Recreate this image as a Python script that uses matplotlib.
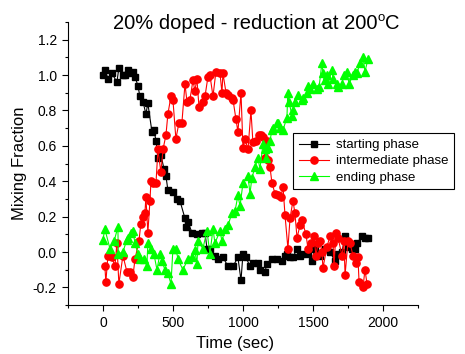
import matplotlib
matplotlib.use('Agg')
import matplotlib.pyplot as plt
from matplotlib.ticker import MultipleLocator

# starting phase (black squares)
start_t = [0, 14, 36, 64, 100, 114, 143, 157, 179, 193,
           214, 229, 250, 264, 286, 307, 321, 350, 364, 379,
           393, 414, 436, 450, 464, 500, 529, 550, 586, 593,
           607, 636, 671, 707, 729, 743, 764, 800, 821, 857,
           893, 929, 964, 986, 1000, 1021, 1050, 1071, 1107, 1121,
           1157, 1171, 1207, 1243, 1279, 1300, 1314, 1336, 1357, 1386,
           1407, 1421, 1464, 1493, 1514, 1536, 1550, 1586, 1621, 1657,
           1679, 1707, 1729, 1750, 1779, 1800, 1814, 1850, 1871, 1893]
start_y = [1.00, 1.03, 0.98, 1.01, 0.96, 1.04, 1.00, 1.00, 1.03, 1.01,
           1.02, 0.99, 0.94, 0.88, 0.85, 0.78, 0.84, 0.68, 0.69, 0.63,
           0.53, 0.55, 0.47, 0.43, 0.35, 0.34, 0.30, 0.29, 0.19, 0.14,
           0.17, 0.11, 0.10, 0.11, 0.11, 0.02, 0.02, -0.02, -0.04, -0.03,
           -0.08, -0.08, -0.03, -0.16, -0.01, -0.03, -0.08, -0.06, -0.06, -0.10,
           -0.11, -0.07, -0.04, -0.04, -0.05, -0.02, -0.01, -0.03, -0.03, 0.02,
           -0.02, -0.01, -0.01, -0.05, 0.02, -0.01, -0.02, 0.02, 0.00, -0.05,
           -0.01, 0.00, 0.09, 0.03, 0.02, 0.02, 0.05, 0.09, 0.08, 0.08]

# intermediate phase (red circles)
inter_t = [14, 21, 36, 64, 86, 100, 114, 143, 171, 193,
           214, 229, 257, 271, 286, 300, 307, 321, 336, 343,
           357, 379, 393, 414, 429, 450, 464, 486, 500, 521,
           543, 564, 586, 600, 621, 643, 657, 671, 686, 714,
           729, 750, 764, 786, 807, 836, 850, 857, 879, 893,
           921, 929, 950, 964, 986, 1000, 1014, 1036, 1057, 1071,
           1093, 1114, 1129, 1143, 1157, 1171, 1179, 1193, 1207, 1229,
           1250, 1271, 1286, 1300, 1321, 1336, 1357, 1371, 1386, 1407,
           1421, 1450, 1464, 1486, 1507, 1521, 1536, 1550, 1564, 1571,
           1600, 1621, 1643, 1650, 1664, 1679, 1707, 1721, 1729, 1750,
           1764, 1786, 1807, 1821, 1829, 1857, 1871, 1886]
inter_y = [-0.08, -0.17, -0.02, -0.03, -0.08, 0.05, -0.18, -0.02, -0.11, -0.11,
           -0.14, -0.04, 0.06, 0.16, 0.20, 0.22, 0.31, 0.11, 0.29, 0.40,
           0.39, 0.39, 0.58, 0.45, 0.58, 0.66, 0.78, 0.88, 0.86, 0.64,
           0.73, 0.73, 0.95, 0.85, 0.86, 0.97, 0.91, 0.98, 0.82, 0.85,
           0.88, 0.99, 1.00, 0.88, 1.02, 1.01, 0.90, 1.01, 0.90, 0.89,
           0.87, 0.86, 0.75, 0.68, 0.90, 0.59, 0.64, 0.58, 0.80, 0.62,
           0.63, 0.66, 0.66, 0.65, 0.53, 0.63, 0.52, 0.48, 0.39, 0.33,
           0.32, 0.31, 0.37, 0.21, 0.02, 0.19, 0.29, 0.22, 0.08, 0.15,
           0.18, 0.10, 0.02, 0.05, 0.09, -0.02, 0.05, 0.06, 0.00, -0.09,
           0.03, 0.09, 0.05, -0.08, 0.11, 0.08, -0.02, 0.06, -0.13, 0.06,
           0.05, -0.02, -0.06, -0.03, -0.17, -0.20, -0.10, -0.18]

# ending phase (green triangles)
end_t = [0, 14, 50, 79, 107, 110, 143, 171, 179, 200,
         214, 229, 250, 264, 293, 314, 321, 343, 364, 386,
         407, 421, 443, 464, 486, 500, 521, 536, 571, 607,
         636, 657, 671, 679, 714, 743, 764, 786, 800, 836,
         850, 871, 893, 921, 943, 964, 979, 1000, 1036, 1050,
         1064, 1086, 1107, 1121, 1143, 1157, 1164, 1179, 1193, 1207,
         1214, 1243, 1250, 1264, 1286, 1314, 1320, 1329, 1350, 1357,
         1371, 1393, 1421, 1429, 1457, 1464, 1479, 1500, 1529, 1543,
         1564, 1571, 1586, 1600, 1607, 1636, 1643, 1671, 1679, 1707,
         1721, 1743, 1757, 1786, 1800, 1814, 1836, 1857, 1871, 1893]
end_y = [0.07, 0.13, 0.02, 0.06, 0.14, -0.01, 0.00, 0.07, 0.08, 0.11,
         0.12, 0.05, -0.01, -0.04, -0.04, -0.08, 0.05, 0.02, -0.01, -0.10,
         -0.01, -0.05, -0.10, -0.12, -0.18, 0.02, 0.02, -0.04, -0.10, -0.04,
         -0.03, 0.01, -0.07, 0.06, 0.02, 0.12, -0.01, 0.13, 0.05, 0.12,
         0.06, 0.13, 0.15, 0.22, 0.23, 0.32, 0.26, 0.39, 0.43, 0.33,
         0.42, 0.48, 0.53, 0.47, 0.61, 0.58, 0.53, 0.59, 0.63, 0.69,
         0.70, 0.73, 0.73, 0.70, 0.69, 0.76, 0.90, 0.85, 0.77, 0.80,
         0.85, 0.89, 0.86, 0.87, 0.90, 0.94, 0.92, 0.95, 0.92, 0.93,
         1.07, 1.01, 0.97, 1.00, 0.95, 1.03, 0.98, 0.95, 0.93, 0.95,
         1.00, 1.02, 0.95, 1.00, 1.02, 1.01, 1.07, 1.10, 1.02, 1.09]

plt.rcParams['font.family'] = ['Liberation Sans', 'DejaVu Sans']

dpi = 100
fig = plt.figure(figsize=(465 / dpi, 354 / dpi), dpi=dpi)
ax = fig.add_axes([0.146, 0.138, 0.753, 0.800])

ax.plot(start_t, start_y, color='black', lw=0.8, marker='s', ms=4.8,
        label='starting phase')
ax.plot(inter_t, inter_y, color='#ff0000', lw=0.8, marker='o', ms=5.2,
        label='intermediate phase')
ax.plot(end_t, end_y, color='#00ff00', lw=0.8, marker='^', ms=5.6,
        label='ending phase')

ax.set_xlim(-250, 2250)
ax.set_ylim(-0.3, 1.3)
ax.xaxis.set_major_locator(MultipleLocator(500))
ax.xaxis.set_minor_locator(MultipleLocator(250))
ax.yaxis.set_major_locator(MultipleLocator(0.2))
ax.yaxis.set_minor_locator(MultipleLocator(0.1))
ax.yaxis.set_major_formatter(plt.FuncFormatter(lambda v, p: '%.1f' % v))
ax.tick_params(which='major', direction='out', length=4, width=0.8,
               labelsize=10, pad=4)
ax.tick_params(which='minor', direction='out', length=2.5, width=0.8)
ax.spines['top'].set_visible(False)
ax.spines['right'].set_visible(False)

ax.set_xlabel('Time (sec)', fontsize=12)
ax.xaxis.set_label_coords(0.477, -0.11)
ax.set_ylabel('Mixing Fraction', fontsize=12)

# title, with a small raised "o" in front of the C
t1 = fig.text(0.243, 0.935, '20% doped - reduction at 200', ha='left',
              va='center', fontsize=14.5)
t2 = ax.annotate('o', xy=(1, 1.06), xycoords=t1, ha='left', va='top',
                 fontsize=9.5, annotation_clip=False)
ax.annotate('C', xy=(1, 0), xycoords=(t2, t1), ha='left', va='bottom',
            fontsize=14.5, annotation_clip=False)

leg = ax.legend(loc='upper left', bbox_to_anchor=(0.643, 0.608),
                fontsize=9.5, fancybox=False, edgecolor='black',
                framealpha=1, handlelength=2.3, borderaxespad=0,
                borderpad=0.45, labelspacing=0.3, handletextpad=0.5)
leg.get_frame().set_linewidth(0.8)

fig.savefig('out.png', dpi=dpi)
